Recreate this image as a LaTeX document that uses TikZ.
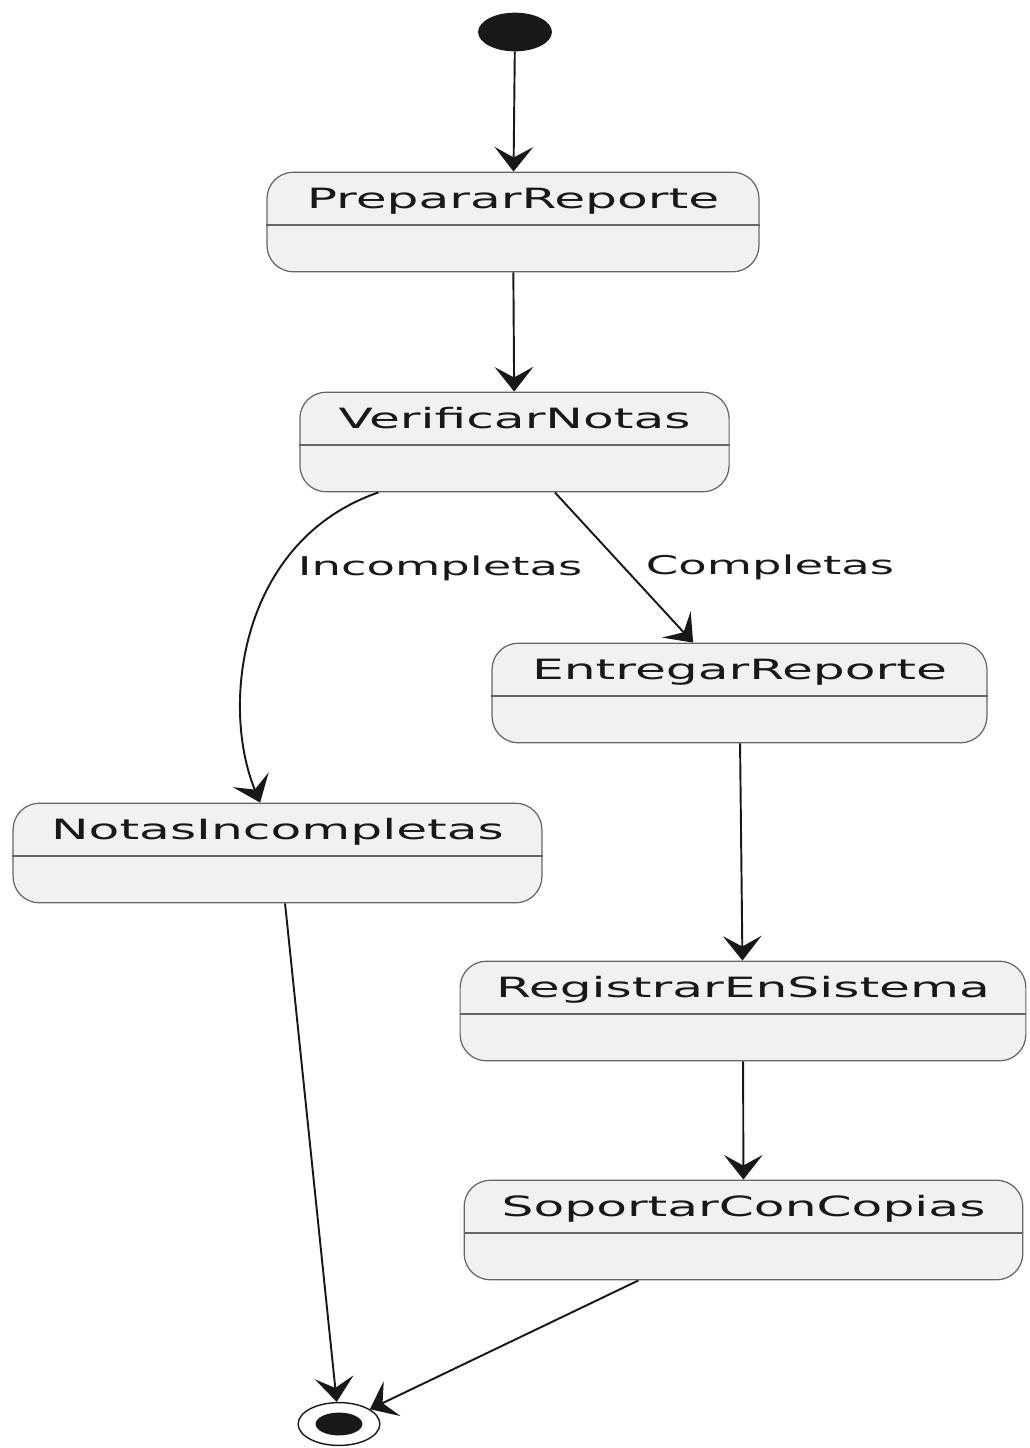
\documentclass[tikz,border=0pt]{standalone}
\usepackage{fontspec}
\usepackage{tikz}
\usetikzlibrary{arrows.meta, shapes.geometric}

\newfontfamily\umlfont[FakeStretch=1.8]{DejaVu Sans}
\definecolor{statefill}{HTML}{F1F1F1}
\definecolor{umlink}{HTML}{181818}

\tikzset{
  state/.style={draw=black!60, line width=0.7pt, fill=statefill, rounded corners=15pt,
    inner xsep=0pt, inner ysep=0pt, text height=20.4pt, text depth=36.3pt,
    font=\umlfont\fontsize{15.9}{19}\selectfont, text=umlink},
  divider/.style={draw=black!60, line width=0.7pt},
  flow/.style={draw=umlink, line width=1.1pt, -{Stealth[length=14pt, width=22pt, inset=6pt]}},
  guard/.style={font=\umlfont\fontsize{14.7}{17}\selectfont, text=umlink, inner sep=0pt, anchor=west}
}

\begin{document}
\begin{tikzpicture}[x=0.02cm, y=-0.02cm]
  \useasboundingbox (0,0) rectangle (1029,1448);
  % Initial state
  \node[ellipse, fill=umlink, minimum width=42pt, minimum height=22pt, inner sep=0pt] (inicio) at (515,32) {};
  % States
  \node[state, minimum width=280pt] (preparar) at (513,222) {PrepararReporte};
  \node[state, minimum width=244.3pt] (verificar) at (514.5,442) {VerificarNotas};
  \node[state, minimum width=281.7pt] (entregar) at (739.5,693) {EntregarReporte};
  \node[state, minimum width=301pt] (incompletas) at (277.5,853) {NotasIncompletas};
  \node[state, minimum width=322pt] (registrar) at (743,1011) {RegistrarEnSistema};
  \node[state, minimum width=318pt] (soportar) at (743.5,1230) {SoportarConCopias};
  \foreach \s in {preparar, verificar, entregar, incompletas, registrar, soportar}
    \draw[divider] ([yshift=-9.6pt]\s.base west) -- ([yshift=-9.6pt]\s.base east);
  % Final state
  \node[ellipse, draw=umlink, line width=0.8pt, minimum width=46.5pt, minimum height=24.4pt, inner sep=0pt] (fin) at (339,1424) {};
  \node[ellipse, fill=umlink, minimum width=26.6pt, minimum height=13pt, inner sep=0pt] (fincentro) at (fin) {};
  % Transitions
  \draw[flow] (inicio) -- (preparar);
  \draw[flow] (preparar) -- (verificar);
  \draw[flow] ([xshift=-77.4pt]verificar.south) .. controls (240,540) and (220,705) .. ([xshift=-9.9pt]incompletas.north)
    node[guard, pos=0.32, xshift=9.6pt] {Incompletas};
  \draw[flow] ([xshift=23pt]verificar.south) -- ([xshift=-26.4pt]entregar.north)
    node[guard, pos=0.5, xshift=11.9pt] {Completas};
  \draw[flow] (entregar) -- (registrar);
  \draw[flow] (registrar) -- (soportar);
  \draw[flow] ([xshift=4.3pt]incompletas.south) -- (fin);
  \draw[flow] ([xshift=-59.8pt]soportar.south) -- (fin);
\end{tikzpicture}
\end{document}
